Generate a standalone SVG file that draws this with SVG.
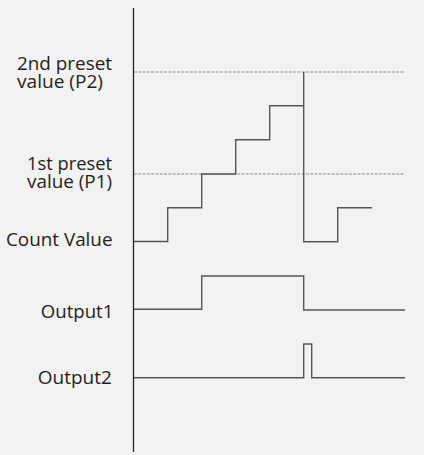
<svg xmlns="http://www.w3.org/2000/svg" width="424" height="455" viewBox="0 0 424 455">
<style>
.lbl{font-family:"Open Sans","Noto Sans",sans-serif;font-size:18px;fill:#231f20}
.wave{fill:none;stroke:#555;stroke-width:1.4}
.dash{fill:none;stroke:#888;stroke-width:1.2;stroke-dasharray:2.8 1.5}
.axis{fill:none;stroke:#222;stroke-width:1.3}
</style>
<rect width="424" height="455" fill="#f2f2f2"/>
<g id="labels">
<g id="label-p2"><text class="lbl" x="17" y="69.5" textLength="95" lengthAdjust="spacingAndGlyphs">2nd preset</text><text class="lbl" x="17" y="87.7" textLength="86" lengthAdjust="spacingAndGlyphs">value (P2)</text></g>
<g id="label-p1"><text class="lbl" x="112" y="169.8" text-anchor="end" textLength="85" lengthAdjust="spacingAndGlyphs">1st preset</text><text class="lbl" x="112" y="188" text-anchor="end" textLength="85" lengthAdjust="spacingAndGlyphs">value (P1)</text></g>
<g id="label-count"><text class="lbl" x="112.5" y="246" text-anchor="end" textLength="106.5" lengthAdjust="spacingAndGlyphs">Count Value</text></g>
<g id="label-out1"><text class="lbl" x="113.3" y="318.3" text-anchor="end" textLength="72.5" lengthAdjust="spacingAndGlyphs">Output1</text></g>
<g id="label-out2"><text class="lbl" x="111.8" y="384" text-anchor="end" textLength="74" lengthAdjust="spacingAndGlyphs">Output2</text></g>
</g>
<g id="connectors">
<line class="axis" x1="133.5" y1="8" x2="133.5" y2="452"/>
<line class="dash" x1="134" y1="72" x2="405" y2="72"/>
<line class="dash" x1="134" y1="174" x2="405" y2="174"/>
<polyline id="count-wave" class="wave" points="134,241.5 167.7,241.5 167.7,207.8 201.7,207.8 201.7,174 235.7,174 235.7,139.8 269.7,139.8 269.7,105.8 303.7,105.8 303.7,72 303.7,241.7 337.7,241.7 337.7,207.8 372,207.8"/>
<polyline id="output1-wave" class="wave" points="134,309.3 201.7,309.3 201.7,276 303.7,276 303.7,310 405,310"/>
<polyline id="output2-wave" class="wave" points="134,377.7 303.7,377.7 303.7,344 311.7,344 311.7,377.7 405,377.7"/>
</g>
</svg>
